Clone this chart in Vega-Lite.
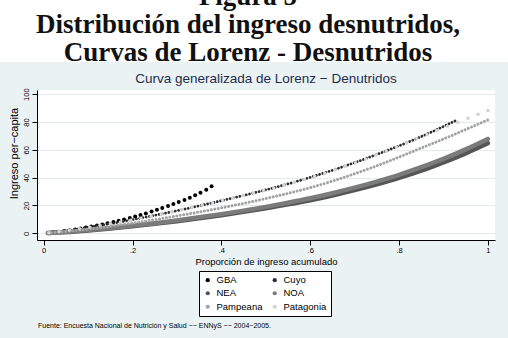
{
  "$schema": "https://vega.github.io/schema/vega-lite/v6.json",
  "background": "#eaf2f3",
  "padding": {"left": 0, "top": 0, "right": 0, "bottom": 20},
  "spacing": 10,
  "config": {
    "view": {"stroke": null},
    "font": "Liberation Sans"
  },
  "title": {
    "text": "Fuente: Encuesta Nacional de Nutrición y Salud −− ENNyS −− 2004−2005.",
    "orient": "bottom", "anchor": "start", "fontSize": 7, "font": "Liberation Sans",
    "fontWeight": "normal", "color": "#000000", "dx": 38, "offset": 5
  },
  "datasets": {
    "encabezado": [
      {"fila": 1, "texto": "Figura 5"},
      {"fila": 2, "texto": "Distribución del ingreso desnutridos,"},
      {"fila": 3, "texto": "Curvas de Lorenz - Desnutridos"}
    ],
    "curvas": [
      {"region": "GBA", "p": 0.009, "gl": 0.3},
      {"region": "GBA", "p": 0.021, "gl": 0.7},
      {"region": "GBA", "p": 0.034, "gl": 1.2},
      {"region": "GBA", "p": 0.046, "gl": 1.7},
      {"region": "GBA", "p": 0.058, "gl": 2.2},
      {"region": "GBA", "p": 0.071, "gl": 2.8},
      {"region": "GBA", "p": 0.083, "gl": 3.5},
      {"region": "GBA", "p": 0.095, "gl": 4.2},
      {"region": "GBA", "p": 0.107, "gl": 4.9},
      {"region": "GBA", "p": 0.120, "gl": 5.7},
      {"region": "GBA", "p": 0.132, "gl": 6.4},
      {"region": "GBA", "p": 0.144, "gl": 7.2},
      {"region": "GBA", "p": 0.157, "gl": 8.1},
      {"region": "GBA", "p": 0.169, "gl": 9.0},
      {"region": "GBA", "p": 0.181, "gl": 9.9},
      {"region": "GBA", "p": 0.194, "gl": 11.0},
      {"region": "GBA", "p": 0.206, "gl": 12.1},
      {"region": "GBA", "p": 0.218, "gl": 13.2},
      {"region": "GBA", "p": 0.230, "gl": 14.3},
      {"region": "GBA", "p": 0.243, "gl": 15.6},
      {"region": "GBA", "p": 0.255, "gl": 16.9},
      {"region": "GBA", "p": 0.267, "gl": 18.2},
      {"region": "GBA", "p": 0.280, "gl": 19.7},
      {"region": "GBA", "p": 0.292, "gl": 21.0},
      {"region": "GBA", "p": 0.304, "gl": 22.5},
      {"region": "GBA", "p": 0.317, "gl": 24.0},
      {"region": "GBA", "p": 0.329, "gl": 25.6},
      {"region": "GBA", "p": 0.341, "gl": 27.3},
      {"region": "GBA", "p": 0.353, "gl": 29.2},
      {"region": "GBA", "p": 0.366, "gl": 31.4},
      {"region": "GBA", "p": 0.378, "gl": 33.8},
      {"region": "Cuyo", "p": 0.01, "gl": 0.3},
      {"region": "Cuyo", "p": 0.05, "gl": 1.8},
      {"region": "Cuyo", "p": 0.10, "gl": 4.3},
      {"region": "Cuyo", "p": 0.15, "gl": 6.9},
      {"region": "Cuyo", "p": 0.20, "gl": 9.8},
      {"region": "Cuyo", "p": 0.25, "gl": 12.9},
      {"region": "Cuyo", "p": 0.30, "gl": 16.2},
      {"region": "Cuyo", "p": 0.35, "gl": 19.7},
      {"region": "Cuyo", "p": 0.40, "gl": 23.4},
      {"region": "Cuyo", "p": 0.45, "gl": 27.2},
      {"region": "Cuyo", "p": 0.50, "gl": 31.2},
      {"region": "Cuyo", "p": 0.55, "gl": 35.5},
      {"region": "Cuyo", "p": 0.60, "gl": 40.2},
      {"region": "Cuyo", "p": 0.65, "gl": 45.3},
      {"region": "Cuyo", "p": 0.70, "gl": 50.8},
      {"region": "Cuyo", "p": 0.75, "gl": 56.7},
      {"region": "Cuyo", "p": 0.80, "gl": 62.9},
      {"region": "Cuyo", "p": 0.85, "gl": 69.5},
      {"region": "Cuyo", "p": 0.90, "gl": 76.8},
      {"region": "Cuyo", "p": 0.926, "gl": 80.8},
      {"region": "NEA", "p": 0.01, "gl": 0.2},
      {"region": "NEA", "p": 0.05, "gl": 0.9},
      {"region": "NEA", "p": 0.10, "gl": 2.1},
      {"region": "NEA", "p": 0.15, "gl": 3.5},
      {"region": "NEA", "p": 0.20, "gl": 5.1},
      {"region": "NEA", "p": 0.25, "gl": 6.8},
      {"region": "NEA", "p": 0.30, "gl": 8.7},
      {"region": "NEA", "p": 0.35, "gl": 10.8},
      {"region": "NEA", "p": 0.40, "gl": 13.0},
      {"region": "NEA", "p": 0.45, "gl": 15.4},
      {"region": "NEA", "p": 0.50, "gl": 18.0},
      {"region": "NEA", "p": 0.55, "gl": 20.8},
      {"region": "NEA", "p": 0.60, "gl": 23.8},
      {"region": "NEA", "p": 0.65, "gl": 27.2},
      {"region": "NEA", "p": 0.70, "gl": 31.0},
      {"region": "NEA", "p": 0.75, "gl": 35.2},
      {"region": "NEA", "p": 0.80, "gl": 39.8},
      {"region": "NEA", "p": 0.85, "gl": 45.0},
      {"region": "NEA", "p": 0.90, "gl": 51.0},
      {"region": "NEA", "p": 0.95, "gl": 57.5},
      {"region": "NEA", "p": 1.00, "gl": 64.7},
      {"region": "NOA", "p": 0.01, "gl": 0.2},
      {"region": "NOA", "p": 0.05, "gl": 1.0},
      {"region": "NOA", "p": 0.10, "gl": 2.3},
      {"region": "NOA", "p": 0.15, "gl": 3.8},
      {"region": "NOA", "p": 0.20, "gl": 5.5},
      {"region": "NOA", "p": 0.25, "gl": 7.3},
      {"region": "NOA", "p": 0.30, "gl": 9.3},
      {"region": "NOA", "p": 0.35, "gl": 11.5},
      {"region": "NOA", "p": 0.40, "gl": 13.8},
      {"region": "NOA", "p": 0.45, "gl": 16.3},
      {"region": "NOA", "p": 0.50, "gl": 19.0},
      {"region": "NOA", "p": 0.55, "gl": 22.0},
      {"region": "NOA", "p": 0.60, "gl": 25.2},
      {"region": "NOA", "p": 0.65, "gl": 28.8},
      {"region": "NOA", "p": 0.70, "gl": 32.8},
      {"region": "NOA", "p": 0.75, "gl": 37.2},
      {"region": "NOA", "p": 0.80, "gl": 42.0},
      {"region": "NOA", "p": 0.85, "gl": 47.5},
      {"region": "NOA", "p": 0.90, "gl": 53.5},
      {"region": "NOA", "p": 0.95, "gl": 60.3},
      {"region": "NOA", "p": 1.00, "gl": 67.8},
      {"region": "Pampeana", "p": 0.01, "gl": 0.2},
      {"region": "Pampeana", "p": 0.05, "gl": 1.3},
      {"region": "Pampeana", "p": 0.10, "gl": 3.0},
      {"region": "Pampeana", "p": 0.15, "gl": 5.0},
      {"region": "Pampeana", "p": 0.20, "gl": 7.3},
      {"region": "Pampeana", "p": 0.25, "gl": 9.8},
      {"region": "Pampeana", "p": 0.30, "gl": 12.5},
      {"region": "Pampeana", "p": 0.35, "gl": 15.3},
      {"region": "Pampeana", "p": 0.40, "gl": 18.3},
      {"region": "Pampeana", "p": 0.45, "gl": 21.5},
      {"region": "Pampeana", "p": 0.50, "gl": 25.0},
      {"region": "Pampeana", "p": 0.55, "gl": 28.7},
      {"region": "Pampeana", "p": 0.60, "gl": 32.8},
      {"region": "Pampeana", "p": 0.65, "gl": 37.5},
      {"region": "Pampeana", "p": 0.70, "gl": 42.8},
      {"region": "Pampeana", "p": 0.75, "gl": 48.5},
      {"region": "Pampeana", "p": 0.80, "gl": 54.8},
      {"region": "Pampeana", "p": 0.85, "gl": 61.3},
      {"region": "Pampeana", "p": 0.90, "gl": 67.8},
      {"region": "Pampeana", "p": 0.95, "gl": 74.6},
      {"region": "Pampeana", "p": 1.00, "gl": 81.5},
      {"region": "Patagonia", "p": 0.012, "gl": 0.4},
      {"region": "Patagonia", "p": 0.035, "gl": 1.3},
      {"region": "Patagonia", "p": 0.058, "gl": 2.3},
      {"region": "Patagonia", "p": 0.081, "gl": 3.3},
      {"region": "Patagonia", "p": 0.104, "gl": 4.4},
      {"region": "Patagonia", "p": 0.127, "gl": 5.6},
      {"region": "Patagonia", "p": 0.150, "gl": 6.9},
      {"region": "Patagonia", "p": 0.173, "gl": 8.1},
      {"region": "Patagonia", "p": 0.196, "gl": 9.4},
      {"region": "Patagonia", "p": 0.219, "gl": 10.8},
      {"region": "Patagonia", "p": 0.242, "gl": 12.3},
      {"region": "Patagonia", "p": 0.265, "gl": 13.8},
      {"region": "Patagonia", "p": 0.288, "gl": 15.3},
      {"region": "Patagonia", "p": 0.311, "gl": 16.9},
      {"region": "Patagonia", "p": 0.334, "gl": 18.5},
      {"region": "Patagonia", "p": 0.357, "gl": 20.2},
      {"region": "Patagonia", "p": 0.380, "gl": 21.9},
      {"region": "Patagonia", "p": 0.403, "gl": 23.6},
      {"region": "Patagonia", "p": 0.426, "gl": 25.4},
      {"region": "Patagonia", "p": 0.449, "gl": 27.2},
      {"region": "Patagonia", "p": 0.472, "gl": 29.0},
      {"region": "Patagonia", "p": 0.495, "gl": 30.8},
      {"region": "Patagonia", "p": 0.518, "gl": 32.6},
      {"region": "Patagonia", "p": 0.541, "gl": 34.6},
      {"region": "Patagonia", "p": 0.564, "gl": 36.6},
      {"region": "Patagonia", "p": 0.587, "gl": 38.7},
      {"region": "Patagonia", "p": 0.610, "gl": 40.9},
      {"region": "Patagonia", "p": 0.633, "gl": 43.2},
      {"region": "Patagonia", "p": 0.656, "gl": 45.6},
      {"region": "Patagonia", "p": 0.679, "gl": 48.1},
      {"region": "Patagonia", "p": 0.702, "gl": 50.7},
      {"region": "Patagonia", "p": 0.725, "gl": 53.4},
      {"region": "Patagonia", "p": 0.748, "gl": 56.2},
      {"region": "Patagonia", "p": 0.771, "gl": 59.1},
      {"region": "Patagonia", "p": 0.794, "gl": 62.0},
      {"region": "Patagonia", "p": 0.817, "gl": 64.9},
      {"region": "Patagonia", "p": 0.840, "gl": 67.9},
      {"region": "Patagonia", "p": 0.863, "gl": 70.9},
      {"region": "Patagonia", "p": 0.886, "gl": 73.9},
      {"region": "Patagonia", "p": 0.909, "gl": 76.9},
      {"region": "Patagonia", "p": 0.932, "gl": 79.8},
      {"region": "Patagonia", "p": 0.955, "gl": 82.7},
      {"region": "Patagonia", "p": 0.978, "gl": 85.6},
      {"region": "Patagonia", "p": 1.000, "gl": 88.3}
    ]
  },
  "vconcat": [
    {
      "width": 508,
      "height": 62,
      "view": {"fill": "white", "stroke": null},
      "data": {"name": "encabezado"},
      "mark": {"type": "text", "font": "Liberation Serif", "fontWeight": "bold", "fontSize": 27, "baseline": "alphabetic", "align": "center", "clip": true, "dx": -6, "color": "#111111"},
      "encoding": {
        "y": {"field": "fila", "type": "ordinal", "scale": {"type": "point", "range": [5, 61], "padding": 0}, "axis": null},
        "text": {"field": "texto", "type": "nominal"}
      }
    },
    {
      "spacing": 0,
      "hconcat": [
        {
          "width": 7,
          "height": 150,
          "view": {"stroke": null},
          "data": {"values": [{}]},
          "mark": {"type": "point", "opacity": 0}
        },
        {
          "width": 458,
          "height": 150,
          "view": {"fill": "white", "stroke": null},
          "title": {"text": "Curva generalizada de Lorenz − Denutridos", "fontSize": 13.5, "font": "Liberation Sans", "fontWeight": "normal", "color": "#1e2d4f", "anchor": "middle", "frame": "group", "baseline": "alphabetic", "offset": -9},
          "data": {"name": "curvas"},
          "encoding": {
            "x": {
              "field": "p", "type": "quantitative",
              "scale": {"domain": [-0.015, 1.016], "nice": false, "zero": false},
              "axis": {
                "values": [0, 0.2, 0.4, 0.6, 0.8, 1],
                "labelExpr": "datum.value === 0 ? '0' : datum.value === 1 ? '1' : replace(format(datum.value, '.1f'), '0.', '.')",
                "title": "Proporción de ingreso acumulado",
                "grid": false, "domainColor": "#000000", "tickColor": "#000000", "tickSize": 5,
                "labelFontSize": 7.5, "labelColor": "#000000", "labelPadding": 1, "labelFlush": false,
                "titleFontSize": 9.5, "titleFontWeight": "normal", "titleColor": "#000000", "titlePadding": 3,
                "labelFont": "Liberation Sans", "titleFont": "Liberation Sans"
              }
            },
            "y": {
              "field": "gl", "type": "quantitative",
              "scale": {"domain": [-4.8, 103], "nice": false, "zero": false},
              "axis": {
                "values": [0, 20, 40, 60, 80, 100],
                "title": "Ingreso per−capita",
                "grid": true, "gridColor": "#e3ebee", "gridWidth": 1,
                "domainColor": "#000000", "tickColor": "#000000", "tickSize": 5,
                "labelAngle": 270, "labelAlign": "center", "labelBaseline": "bottom", "labelPadding": 1.5,
                "labelFontSize": 7.5, "labelColor": "#000000", "labelFont": "Liberation Sans",
                "titleFontSize": 11, "titleFontWeight": "normal", "titleColor": "#000000", "titleFont": "Liberation Sans",
                "titleAngle": 270, "titleBaseline": "bottom", "titleAlign": "center", "titleX": -18, "titleY": 63
              }
            }
          },
          "layer": [
            {
              "transform": [{"filter": "datum.region === 'GBA'"}],
              "mark": {"type": "point", "filled": true, "size": 16, "opacity": 1},
              "encoding": {
                "color": {
                  "field": "region", "type": "nominal",
                  "scale": {"domain": ["GBA", "Cuyo", "NEA", "NOA", "Pampeana", "Patagonia"], "range": ["#000000", "#2e2e2e", "#555555", "#7b7b7b", "#a3a3a3", "#d3d3d3"]},
                  "legend": {
                    "orient": "none", "legendX": 199, "legendY": 271, "columns": 2, "direction": "horizontal", "title": null,
                    "symbolType": "circle", "symbolSize": 18, "symbolStrokeWidth": 0, "symbolOpacity": 1,
                    "labelFontSize": 9.5, "labelFont": "Liberation Sans", "labelColor": "#000000",
                    "fillColor": "#ffffff", "strokeColor": "#000000", "padding": 4,
                    "rowPadding": 2.5, "columnPadding": 7, "labelOffset": 4
                  }
                }
              }
            },
            {
              "transform": [{"filter": "datum.region === 'Cuyo'"}],
              "mark": {"type": "line", "strokeWidth": 2.8, "strokeCap": "round", "strokeDash": [0.01, 3.3], "interpolate": "monotone"},
              "encoding": {
                "stroke": {"field": "region", "type": "nominal", "legend": null,
                  "scale": {"domain": ["GBA", "Cuyo", "NEA", "NOA", "Pampeana", "Patagonia"], "range": ["#000000", "#2e2e2e", "#555555", "#7b7b7b", "#a3a3a3", "#d3d3d3"]}}
              }
            },
            {
              "transform": [{"filter": "datum.region === 'NEA'"}],
              "mark": {"type": "line", "strokeWidth": 4.5, "strokeCap": "round", "interpolate": "monotone"},
              "encoding": {
                "stroke": {"field": "region", "type": "nominal", "legend": null}
              }
            },
            {
              "transform": [{"filter": "datum.region === 'NOA'"}],
              "mark": {"type": "line", "strokeWidth": 4.5, "strokeCap": "round", "interpolate": "monotone"},
              "encoding": {
                "stroke": {"field": "region", "type": "nominal", "legend": null}
              }
            },
            {
              "transform": [{"filter": "datum.region === 'Pampeana'"}],
              "mark": {"type": "line", "strokeWidth": 3, "strokeCap": "round", "strokeDash": [0.01, 3.5], "interpolate": "monotone"},
              "encoding": {
                "stroke": {"field": "region", "type": "nominal", "legend": null}
              }
            },
            {
              "transform": [{"filter": "datum.region === 'Patagonia'"}],
              "mark": {"type": "point", "filled": true, "size": 13, "opacity": 1},
              "encoding": {
                "color": {"field": "region", "type": "nominal"}
              }
            }
          ]
        }
      ]
    }
  ]
}
